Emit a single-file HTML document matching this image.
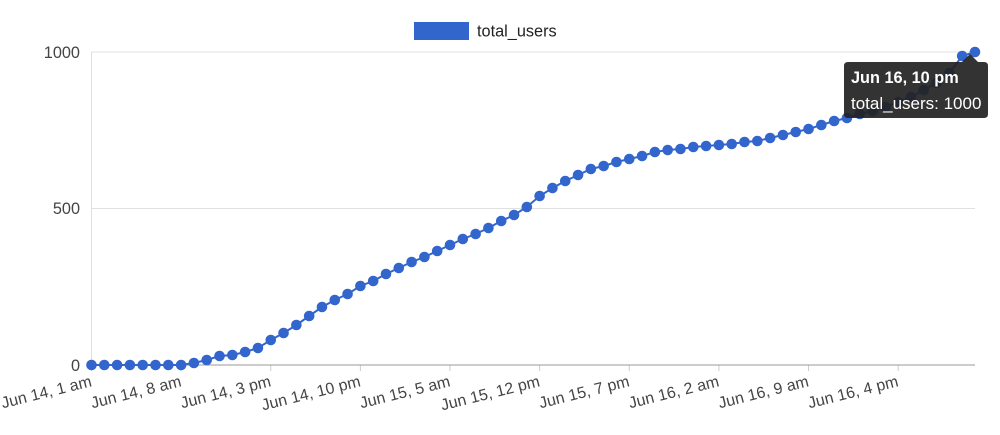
<!DOCTYPE html>
<html><head><meta charset="utf-8"><style>
html,body{margin:0;padding:0;background:#fff;overflow:hidden;}
svg{display:block;font-family:"Liberation Sans",Arial,sans-serif;}
</style></head><body>
<svg width="1000" height="435" viewBox="0 0 1000 435" xmlns="http://www.w3.org/2000/svg">
<rect x="414" y="22" width="55" height="18" fill="#3366cc"/>
<text x="477" y="36.5" font-size="16.3" fill="#222">total_users</text>
<line x1="91" y1="52" x2="975" y2="52" stroke="#e0e0e0"/>
<line x1="91" y1="208.5" x2="975" y2="208.5" stroke="#e0e0e0"/>
<line x1="91.5" y1="52" x2="91.5" y2="365" stroke="#e0e0e0"/>
<text x="80" y="58" font-size="16.3" fill="#444" text-anchor="end">1000</text>
<text x="80" y="214" font-size="16.3" fill="#444" text-anchor="end">500</text>
<text x="80" y="371" font-size="16.3" fill="#444" text-anchor="end">0</text>
<g id="ticks" stroke="#ccc"></g>
<g id="labels" font-size="16" fill="#444"></g>
<line x1="91" y1="365" x2="975" y2="365" stroke="#999"/>
<polyline id="ln" fill="none" stroke="#3366cc" stroke-width="2"/>
<g id="pts" fill="#3366cc"></g>
<path d="M848 62 H962 L970 54 L978 62 H984 Q988 62 988 66 V114 Q988 118 984 118 H848 Q844 118 844 114 V66 Q844 62 848 62 Z" fill="#222" fill-opacity="0.92"/>
<text x="851" y="83" font-size="16.3" font-weight="bold" fill="#fff">Jun 16, 10 pm</text>
<text x="851" y="109" font-size="17" fill="#fff">total_users: 1000</text>
</svg>
<script>
var ys=[365,365,365,365,365,365,365,365,363,360,356,355,352,348,340,333,325,316,307,300,294,286,281,274,268,262,257,251,245,239,234,228,221,215,207,196,188,181,175,169,166,162,159,156,152,150,149,147,146,145,144,142,141,138,135,132,129,125,121,118,114,111,107,102,97,90,83,73,56,52];
var ns="http://www.w3.org/2000/svg",pts=[],g=document.getElementById('pts');
for(var i=0;i<ys.length;i++){var x=91.5+i*(975-91.5)/69;pts.push(x.toFixed(1)+","+ys[i]);
var c=document.createElementNS(ns,'circle');c.setAttribute('cx',x);c.setAttribute('cy',ys[i]);c.setAttribute('r',5.3);g.appendChild(c);}
document.getElementById('ln').setAttribute('points',pts.join(' '));
var labs=["Jun 14, 1 am","Jun 14, 8 am","Jun 14, 3 pm","Jun 14, 10 pm","Jun 15, 5 am","Jun 15, 12 pm","Jun 15, 7 pm","Jun 16, 2 am","Jun 16, 9 am","Jun 16, 4 pm"];
var tg=document.getElementById('ticks'),lg=document.getElementById('labels');
for(var k=0;k<labs.length;k++){var x=91.5+k*7*(975-91.5)/69;
var l=document.createElementNS(ns,'line');l.setAttribute('x1',x);l.setAttribute('x2',x);l.setAttribute('y1',365);l.setAttribute('y2',371);tg.appendChild(l);
var t=document.createElementNS(ns,'text');t.setAttribute('text-anchor','end');t.setAttribute('transform','translate('+(x+1)+',386) rotate(-14)');t.textContent=labs[k];lg.appendChild(t);}
</script>
</body></html>
